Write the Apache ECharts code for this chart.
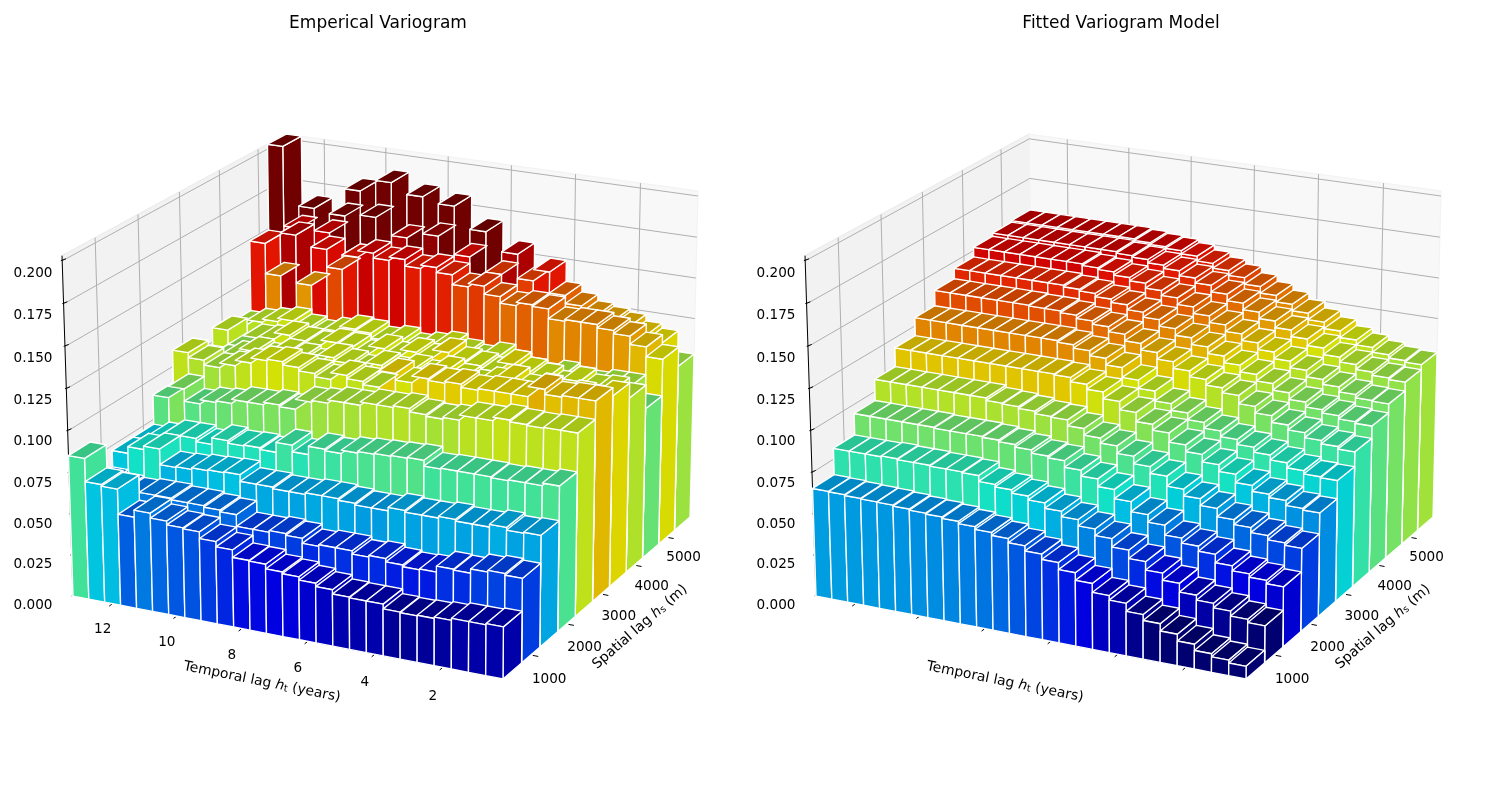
<!DOCTYPE html>
<html>
<head>
<meta charset="utf-8">
<style>html,body{margin:0;padding:0;background:#fff}#chart{width:1500px;height:800px}</style>
<script src="https://cdn.jsdelivr.net/npm/echarts@6/dist/echarts.min.js"></script>
</head>
<body>
<div id="chart"></div>
<script>
// Lag classes: each row of a surface is one spatial lag, each column one temporal lag.
const temporalLags = [0.5,1,1.5,2,2.5,3,3.5,4,4.5,5,5.5,6,6.5,7,7.5,8,8.5,9,9.5,10,10.5,11,11.5,12,12.5,13];
const spatialLags = [500,1000,1500,2000,2500,3000,3500,4000,4500,5000,5500];

const empirical0 = [.0307,.030,.030,.0288,.028,.0276,.028,.0308,.0308,.0312,.0337,.0357,.0377,.0387,.0415,.0419,.0464,.0496,.0536,.0542,.0565,.0595,.0552,.0704,.0714,.0853];
const empirical1 = [.050,.051,.050,.0475,.048,.0445,.044,.045,.047,.046,.048,.048,.047,.050,.051,.050,.050,.057,.058,.059,.059,.060,.060,.059,.060,.062];
const empirical2 = [.0665,.066,.0676,.066,.066,.067,.066,.066,.067,.065,.065,.066,.067,.067,.066,.066,.067,.067,.071,.0705,.070,.069,.0685,.078,.076,.072];
const empirical3 = [.087,.0855,.0855,.085,.0855,.0855,.0855,.085,.0885,.088,.0875,.087,.086,.084,.085,.080,.084,.078,.079,.0785,.080,.076,.078,.078,.075,.072];
const empirical4 = [.110,.110,.1095,.110,.111,.109,.109,.106,.105,.106,.108,.107,.107,.105,.105,.103,.102,.096,.097,.0955,.0955,.093,.092,.0895,.097,.090];
const empirical5 = [.121,.121,.120,.123,.117,.117,.117,.116,.118,.117,.118,.114,.118,.108,.110,.112,.108,.110,.112,.114,.113,.110,.1067,.104,.107,.110];
const empirical6 = [.116,.112,.113,.112,.114,.112,.116,.113,.110,.112,.115,.111,.113,.110,.112,.108,.110,.112,.107,.109,.110,.106,.108,.104,.100,.098];
const empirical7 = [.107,.110,.109,.112,.108,.111,.113,.116,.110,.112,.113,.117,.112,.114,.110,.113,.108,.111,.112,.109,.110,.112,.108,.107,.100,.109];
const empirical8 = [.0925,.104,.104,.102,.103,.105,.102,.103,.106,.110,.107,.109,.112,.110,.108,.111,.109,.112,.113,.110,.107,.109,.112,.110,.108,.105];
const empirical9 = [.115,.121,.126,.128,.130,.130,.129,.135,.136,.134,.138,.143,.141,.147,.150,.148,.152,.150,.153,.149,.140,.151,.127,.157,.130,.149];
const empirical10 = [.103,.116,.119,.123,.125,.127,.131,.136,.149,.142,.157,.143,.168,.151,.181,.161,.184,.157,.190,.167,.182,.165,.153,.167,.153,.203];

const fitted0 = [.0075,.0092,.011,.0147,.0187,.023,.0265,.0313,.034,.0393,.0438,.048,.0512,.0543,.0568,.0587,.0603,.0617,.0625,.063,.0637,.0643,.0645,.0648,.0653,.0655];
const fitted1 = [.022,.024,.027,.0297,.0326,.0378,.042,.047,.052,.057,.061,.0648,.068,.0712,.0735,.0755,.077,.0805,.081,.081,.0815,.0815,.082,.0815,.0815,.0815];
const fitted2 = [.036,.038,.040,.043,.048,.051,.054,.060,.0645,.0705,.076,.0805,.084,.088,.089,.091,.0925,.0935,.094,.094,.094,.0945,.0945,.0945,.0945,.0945];
const fitted3 = [.050,.0515,.054,.057,.060,.065,.069,.073,.079,.083,.0875,.092,.095,.099,.1025,.103,.1045,.1055,.106,.1075,.1075,.1075,.1075,.1075,.1075,.1075];
const fitted4 = [.0625,.0635,.0665,.0685,.072,.077,.081,.0855,.0895,.095,.0985,.104,.109,.113,.116,.1185,.119,.119,.119,.119,.119,.119,.119,.119,.119,.119];
const fitted5 = [.0735,.074,.076,.079,.082,.085,.088,.0915,.095,.099,.103,.109,.114,.120,.124,.127,.129,.130,.130,.130,.130,.130,.130,.130,.130,.130];
const fitted6 = [.0825,.084,.086,.089,.092,.096,.100,.105,.108,.1115,.115,.119,.123,.127,.131,.134,.136,.138,.139,.139,.1395,.1395,.1395,.1395,.1395,.1395];
const fitted7 = [.090,.091,.093,.095,.098,.102,.106,.110,.114,.118,.122,.126,.130,.134,.137,.140,.142,.144,.145,.146,.146,.146,.146,.146,.146,.146];
const fitted8 = [.0955,.096,.098,.101,.104,.108,.112,.116,.120,.124,.128,.132,.136,.140,.143,.146,.148,.150,.151,.152,.152,.152,.152,.152,.152,.152];
const fitted9 = [.101,.102,.104,.107,.110,.114,.118,.122,.126,.130,.134,.138,.142,.145,.148,.150,.152,.153,.154,.154,.154,.154,.154,.154,.154,.154];
const fitted10 = [.104,.105,.107,.110,.113,.117,.121,.125,.129,.133,.137,.141,.144,.147,.150,.152,.153,.154,.155,.155,.155,.155,.155,.155,.155,.155];

const temporalTicks = [2,4,6,8,10,12];
const spatialTicks = [1000,2000,3000,4000,5000];
const heightTicks = [0,0.025,0.05,0.075,0.1,0.125,0.15,0.175,0.2];

const panels = [
  {title: 'Emperical Variogram', shift: 0, showTemporalLabels: true,
   rows: [empirical0,empirical1,empirical2,empirical3,empirical4,empirical5,empirical6,empirical7,empirical8,empirical9,empirical10]},
  {title: 'Fitted Variogram Model', shift: 743, showTemporalLabels: false,
   rows: [fitted0,fitted1,fitted2,fitted3,fitted4,fitted5,fitted6,fitted7,fitted8,fitted9,fitted10]}
];

// Axis limits of the box and the half widths of one bar.
const htMin = 0.25, htSpan = 13, hsMin = 250, hsSpan = 5500, zMax = 0.203;
const htHalf = 0.25, hsHalf = 250;
// Colour scale limits.
const colorMin = 0.0225, colorMax = 0.1654;

// Perspective camera: homogeneous screen position as a linear function of the box coordinates.
const cam = {
  x: [503, -426.5, 256.5, -13.5],
  y: [679, -54.5, -110, -364.8],
  w: [1, 0.04775, 0.1007, -0.032]
};

function boxCoords(ht, hs, z) {
  return [(ht - htMin) / htSpan, (hs - hsMin) / hsSpan, z / zMax];
}
function homog(c, b) { return c[0] + c[1] * b[0] + c[2] * b[1] + c[3] * b[2]; }
function project(shift, ht, hs, z) {
  const b = boxCoords(ht, hs, z);
  const w = homog(cam.w, b);
  return [homog(cam.x, b) / w + shift, homog(cam.y, b) / w];
}
function depth(ht, hs, z) { return homog(cam.w, boxCoords(ht, hs, z)); }

function ramp(stops, t) {
  for (let k = 1; k < stops.length; k++) {
    if (t <= stops[k][0]) {
      const a = stops[k - 1], b = stops[k];
      return a[1] + (b[1] - a[1]) * (t - a[0]) / (b[0] - a[0]);
    }
  }
  return stops[stops.length - 1][1];
}
const jetR = [[0,0],[.35,0],[.66,1],[.89,1],[1,.5]];
const jetG = [[0,0],[.125,0],[.375,1],[.64,1],[.91,0],[1,0]];
const jetB = [[0,.5],[.11,1],[.34,1],[.65,0],[1,0]];
function faceColor(z, shade) {
  const t = Math.max(0, Math.min(1, (z - colorMin) / (colorMax - colorMin)));
  const c = [ramp(jetR, t), ramp(jetG, t), ramp(jetB, t)].map(v => Math.round(v * shade * 255));
  return 'rgb(' + c.join(',') + ')';
}

// The six faces of a bar as corner signs (temporal, spatial, top flag) with their shading factor.
const faces = [
  {corners: [[-1,-1,0],[1,-1,0],[1,1,0],[-1,1,0]], shade: 0.533},
  {corners: [[-1,-1,1],[1,-1,1],[1,1,1],[-1,1,1]], shade: 0.767},
  {corners: [[-1,-1,0],[1,-1,0],[1,-1,1],[-1,-1,1]], shade: 0.883},
  {corners: [[-1,1,0],[1,1,0],[1,1,1],[-1,1,1]], shade: 0.417},
  {corners: [[-1,-1,0],[-1,1,0],[-1,1,1],[-1,-1,1]], shade: 0.883},
  {corners: [[1,-1,0],[1,1,0],[1,1,1],[1,-1,1]], shade: 0.417}
];

function barFaces(rows) {
  const out = [];
  rows.forEach((row, s) => row.forEach((z, t) => {
    faces.forEach((f, k) => {
      let d = 0;
      f.corners.forEach(c => { d += depth(temporalLags[t] + c[0] * htHalf, spatialLags[s] + c[1] * hsHalf, c[2] * z); });
      out.push([temporalLags[t], spatialLags[s], z, k, d / 4]);
    });
  }));
  // Farthest faces are painted first.
  return out.sort((p, q) => q[4] - p[4]);
}

function renderFace(shift) {
  return function (params, api) {
    const ht = api.value(0), hs = api.value(1), z = api.value(2), f = faces[api.value(3)];
    const points = f.corners.map(c => api.coord(project(shift, ht + c[0] * htHalf, hs + c[1] * hsHalf, c[2] * z)));
    return {type: 'polygon', shape: {points}, style: {fill: faceColor(z, f.shade), stroke: '#ffffff', lineWidth: 1.35, lineJoin: 'round'}};
  };
}

const tickFont = '13.6px "DejaVu Sans"';
const labelFont = '13.9px "DejaVu Sans"';
const htMax = htMin + htSpan, hsMax = hsMin + hsSpan;

function renderFrame(shift, showTemporalLabels) {
  return function (params, api) {
    const p = (ht, hs, z) => api.coord(project(shift, ht, hs, z));
    const kids = [];
    const line = (a, b, stroke, width) => kids.push({type: 'polyline', shape: {points: [a, b]}, style: {stroke, lineWidth: width, fill: null}});
    const wall = (pts, fill, stroke) => kids.push({type: 'polygon', shape: {points: pts}, style: {fill, stroke, lineWidth: 1.2}});
    const text = (x, y, s) => kids.push({type: 'text', x, y, style: {text: s, font: tickFont, fill: '#000', align: 'center', verticalAlign: 'middle'}});

    wall([p(htMax,hsMin,0), p(htMax,hsMax,0), p(htMin,hsMax,0), p(htMin,hsMin,0)], '#f6f6f6', '#f1f1f1');
    wall([p(htMax,hsMin,0), p(htMax,hsMax,0), p(htMax,hsMax,zMax), p(htMax,hsMin,zMax)], '#f2f2f2', '#ececec');
    wall([p(htMax,hsMax,0), p(htMin,hsMax,0), p(htMin,hsMax,zMax), p(htMax,hsMax,zMax)], '#f8f8f8', '#f3f3f3');

    const grid = '#b0b0b0';
    heightTicks.forEach(z => {
      line(p(htMax,hsMin,z), p(htMax,hsMax,z), grid, 1);
      line(p(htMax,hsMax,z), p(htMin,hsMax,z), grid, 1);
    });
    spatialTicks.forEach(hs => {
      line(p(htMax,hs,0), p(htMax,hs,zMax), grid, 1);
      line(p(htMax,hs,0), p(htMin,hs,0), grid, 1);
    });
    temporalTicks.forEach(ht => {
      line(p(ht,hsMax,0), p(ht,hsMax,zMax), grid, 1);
      line(p(ht,hsMin,0), p(ht,hsMax,0), grid, 1);
    });

    line(p(htMax,hsMin,0), p(htMax,hsMin,zMax), '#000', 1);
    heightTicks.forEach(z => {
      line(p(htMax, hsMin + 85, z), p(htMax + 0.04, hsMin, z), '#000', 1);
      text(p(htMax,hsMin,zMax)[0] - 29, p(htMax,hsMin,z)[1] + 9 + 17.5 * z, z.toFixed(3));
    });
    temporalTicks.forEach(ht => {
      const base = p(ht, hsMin, 0);
      line(p(ht, hsMin - 15, 0), p(ht, hsMin - 80, 0), '#000', 1);
      if (showTemporalLabels) text(base[0] - 10, base[1] + 29.4 - 0.3 * ht, String(ht));
    });
    spatialTicks.forEach(hs => {
      const base = p(htMin, hs, 0);
      line(p(htMin - 0.06, hs, 0), p(htMin - 0.22, hs, 0), '#000', 1);
      text(base[0] + 18.5 - (hs - 1000) / 4000 * 1.5, base[1] + 24 - (hs - 1000) / 1000, String(hs));
    });

    const rich = {
      a: {font: labelFont, fill: '#000'},
      i: {font: 'italic ' + labelFont, fill: '#000'},
      s: {font: '9.7px "DejaVu Sans"', fill: '#000', verticalAlign: 'bottom', lineHeight: 12}
    };
    const front = p(htMin, hsMin, 0);
    kids.push({type: 'text', x: front[0] - 241, y: front[1] + 3, rotation: -11.4 * Math.PI / 180,
      style: {text: '{a|Temporal lag }{i|h}{s|t}{a| (years)}', rich, align: 'center', verticalAlign: 'middle'}});
    kids.push({type: 'text', x: front[0] + 137, y: front[1] - 52, rotation: 41 * Math.PI / 180,
      style: {text: '{a|Spatial lag }{i|h}{s|s}{a| (m)}', rich, align: 'center', verticalAlign: 'middle'}});
    return {type: 'group', children: kids};
  };
}

const series = [];
panels.forEach(panel => {
  series.push({type: 'custom', coordinateSystem: 'cartesian2d', silent: true, clip: false, z: 1,
    renderItem: renderFrame(panel.shift, panel.showTemporalLabels), data: [[0, 0]], animation: false});
  series.push({type: 'custom', coordinateSystem: 'cartesian2d', silent: true, clip: false, z: 2,
    renderItem: renderFace(panel.shift), data: barFaces(panel.rows), animation: false, progressive: 0});
});

const chart = echarts.init(document.getElementById('chart'), null, {renderer: 'canvas'});
chart.setOption({
  animation: false,
  backgroundColor: '#ffffff',
  title: panels.map((panel, k) => ({
    text: panel.title, left: k === 0 ? 373 : 1116, top: 10, textAlign: 'center',
    textStyle: {fontFamily: 'DejaVu Sans', fontSize: 17, fontWeight: 'normal', color: '#000'}
  })),
  grid: {left: 0, right: 0, top: 0, bottom: 0},
  xAxis: {type: 'value', min: 0, max: 1500, show: false},
  yAxis: {type: 'value', min: 0, max: 800, inverse: true, show: false},
  series
});
</script>
</body>
</html>
